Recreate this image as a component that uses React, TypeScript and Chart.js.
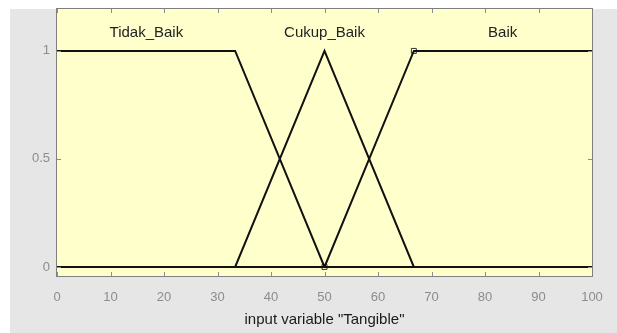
import React, { useEffect, useRef } from "react";
import { Chart, registerables } from "chart.js";

Chart.register(...registerables);

// Membership functions of the input variable "Tangible"
const mfNames = ["Tidak_Baik", "Cukup_Baik", "Baik"];
const mfLabelX = [16.7, 50, 83.3];
const mfLabelY = 1.085;

const tidakBaikX = [0, 33.3, 50, 100];
const tidakBaikY = [1, 1, 0, 0];
const cukupBaikX = [0, 33.3, 50, 66.7, 100];
const cukupBaikY = [0, 0, 1, 0, 0];
const baikX = [0, 50, 66.7, 100];
const baikY = [0, 0, 1, 1];

// selected function's editable vertices
const handleX = [50, 66.7];
const handleY = [0, 1];

const xTicks = [0, 10, 20, 30, 40, 50, 60, 70, 80, 90, 100];
const yTicks = [0, 0.5, 1];

const FONT = "'Liberation Sans', Arial, Helvetica, sans-serif";

const toPoints = (xs: number[], ys: number[]) => xs.map((x, i) => ({ x, y: ys[i] }));

const panelPlugin = {
  id: "panel",
  beforeDraw(chart: any) {
    const { ctx, chartArea, width, height } = chart;
    ctx.save();
    ctx.fillStyle = "#ffffff";
    ctx.fillRect(0, 0, width, height);
    ctx.fillStyle = "#e6e6e6";
    ctx.fillRect(10, 9, width - 10, height - 9);
    ctx.fillStyle = "#ffffcc";
    ctx.fillRect(chartArea.left, chartArea.top, chartArea.right - chartArea.left, chartArea.bottom - chartArea.top);
    ctx.restore();
  },
  afterDatasetsDraw(chart: any) {
    const { ctx, chartArea, scales } = chart;
    const { left, right, top, bottom } = chartArea;
    ctx.save();
    // inward tick marks
    ctx.strokeStyle = "#8c8c8c";
    ctx.lineWidth = 1;
    ctx.beginPath();
    xTicks.forEach((v) => {
      const px = Math.round(scales.x.getPixelForValue(v)) + 0.5;
      ctx.moveTo(px, bottom);
      ctx.lineTo(px, bottom - 4);
      ctx.moveTo(px, top);
      ctx.lineTo(px, top + 4);
    });
    yTicks.forEach((v) => {
      const py = Math.round(scales.y.getPixelForValue(v)) + 0.5;
      ctx.moveTo(left, py);
      ctx.lineTo(left + 4, py);
      ctx.moveTo(right, py);
      ctx.lineTo(right - 4, py);
    });
    ctx.stroke();
    // frame
    ctx.strokeStyle = "#7f7f7f";
    ctx.strokeRect(Math.round(left) - 0.5, Math.round(top) - 0.5, Math.round(right - left) + 1, Math.round(bottom - top) + 1);
    // function names
    ctx.fillStyle = "#222222";
    ctx.font = `15px ${FONT}`;
    ctx.textAlign = "center";
    ctx.textBaseline = "middle";
    mfNames.forEach((name, i) => {
      ctx.fillText(name, scales.x.getPixelForValue(mfLabelX[i]), scales.y.getPixelForValue(mfLabelY));
    });
    ctx.restore();
  },
};

function lineSet(label: string, xs: number[], ys: number[]) {
  return {
    label,
    data: toPoints(xs, ys),
    showLine: true,
    borderColor: "#111111",
    borderWidth: 2,
    pointRadius: 0,
    fill: false,
  };
}

export default function App() {
  const ref = useRef<HTMLCanvasElement | null>(null);

  useEffect(() => {
    if (!ref.current) return;
    const chart = new Chart(ref.current, {
      type: "scatter",
      data: {
        datasets: [
          lineSet(mfNames[0], tidakBaikX, tidakBaikY),
          lineSet(mfNames[1], cukupBaikX, cukupBaikY),
          lineSet(mfNames[2], baikX, baikY),
          {
            label: "handles",
            data: toPoints(handleX, handleY),
            showLine: false,
            pointStyle: "rect",
            pointRadius: 3.5,
            pointBorderWidth: 1,
            pointBorderColor: "#333333",
            pointBackgroundColor: "rgba(0,0,0,0)",
          } as any,
        ],
      },
      options: {
        responsive: false,
        animation: false,
        layout: { padding: { top: 9, right: 25, left: 0, bottom: 0 } },
        plugins: {
          legend: { display: false },
          tooltip: { enabled: false },
        },
        scales: {
          x: {
            type: "linear",
            min: 0,
            max: 100,
            afterBuildTicks: (scale: any) => {
              scale.ticks = xTicks.map((value) => ({ value }));
            },
            afterFit: (scale: any) => {
              scale.height = 57;
              scale.paddingLeft = 0;
              scale.paddingRight = 0;
            },
            grid: { display: false, drawTicks: false },
            border: { display: false },
            ticks: {
              color: "#8c8c8c",
              padding: 14,
              maxRotation: 0,
              font: { family: FONT, size: 13 },
            },
            title: {
              display: true,
              text: 'input variable "Tangible"',
              color: "#1a1a1a",
              padding: { top: 2, bottom: 4 },
              font: { family: FONT, size: 15 },
            },
          },
          y: {
            type: "linear",
            min: -0.042,
            max: 1.194,
            afterBuildTicks: (scale: any) => {
              scale.ticks = yTicks.map((value) => ({ value }));
            },
            afterFit: (scale: any) => {
              scale.width = 57;
              scale.paddingTop = 0;
              scale.paddingBottom = 0;
            },
            grid: { display: false, drawTicks: false },
            border: { display: false },
            ticks: {
              color: "#8c8c8c",
              padding: 7,
              font: { family: FONT, size: 13 },
              callback: (v: any) => String(v),
            },
          },
        },
      } as any,
      plugins: [panelPlugin],
    });
    return () => chart.destroy();
  }, []);

  return (
    <div style={{ position: "absolute", left: 0, top: 0, width: 617, height: 333 }}>
      <canvas ref={ref} width={617} height={333} style={{ display: "block" }} />
    </div>
  );
}
